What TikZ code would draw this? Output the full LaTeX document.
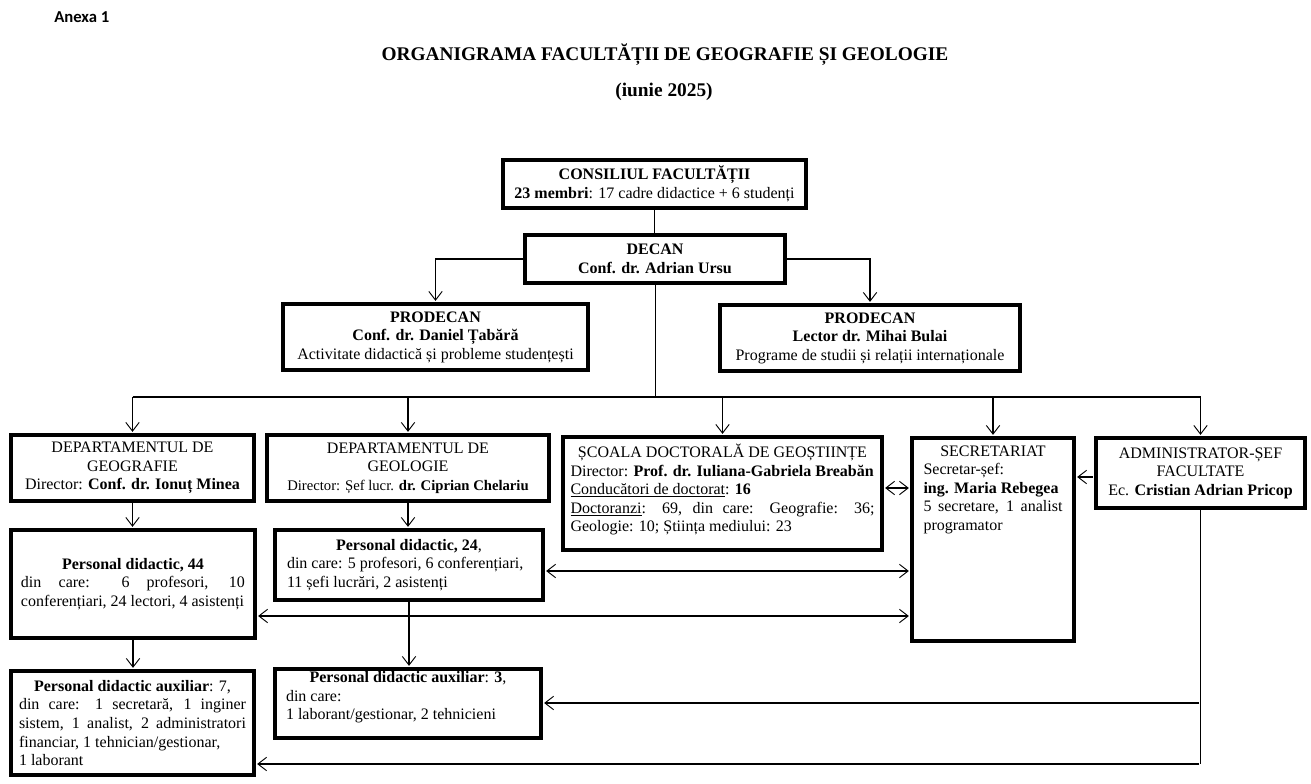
\documentclass[tikz,border=0pt]{standalone}
\usepackage{fontspec}
\setmainfont{Liberation Serif}
\newfontfamily\anexafont{Carlito}
\usetikzlibrary{arrows.meta}
\newcommand\cln[1]{\hbox to \hsize{\hfil#1\hfil}}
\newcommand\lft[1]{\hbox to \hsize{#1\hfil}}
\newcommand\jln[1]{\hbox to \hsize{\spaceskip=.25em plus 1fil\relax#1}}
\newcommand\lines[2]{\vbox{\hsize=#1\relax#2}}
\begin{document}
\begin{tikzpicture}[x=0.75pt,y=-0.75pt,
  >={Straight Barb[length=6.5pt,width=10pt,line width=0.7pt]},
  box/.style={draw, line width=2.7pt, inner sep=0pt, font=\fontsize{12}{13.9}\selectfont},
  bx/.style n args={2}{minimum width=#1*0.75pt, minimum height=#2*0.75pt},
  cthin/.style={line width=0.75pt},
  cmid/.style={line width=1.1pt, shorten >=1pt},
  cbus/.style={line width=0.9pt},
  cdown/.style={line width=1.3pt, shorten >=1pt},
  cthick/.style={line width=1.5pt, shorten >=1pt, shorten <=1pt}]
\fill[white] (0,0) rectangle (1311,784);
\useasboundingbox (0,0) rectangle (1311,784);

\node[anchor=west, inner sep=0pt, font=\anexafont\fontsize{12.5}{14}\selectfont\bfseries] (anexa) at (54,17) {Anexa 1};
\node[inner sep=0pt, font=\fontsize{14.5}{17}\selectfont\bfseries] (title) at (665,55) {ORGANIGRAMA FACULTĂȚII DE GEOGRAFIE ȘI GEOLOGIE};
\node[inner sep=0pt, font=\fontsize{14.5}{17}\selectfont\bfseries] (date) at (664,92) {(iunie 2025)};

\node[box, bx={303}{48}] (cons) at (654.5,184)
  {\lines{217.5pt}{\cln{\textbf{CONSILIUL FACULTĂȚII}}\cln{\textbf{23 membri}: 17 cadre didactice + 6 studenți}}};
\node[box, bx={260}{48}] (decan) at (655,259)
  {\lines{187.5pt}{\cln{\textbf{DECAN}}\cln{\textbf{Conf. dr. Adrian Ursu}}}};
\node[box, bx={305}{66}] (prodL) at (435.5,337)
  {\lines{222pt}{\cln{\textbf{PRODECAN}}\cln{\textbf{Conf. dr. Daniel Țabără}}\cln{Activitate didactică și probleme studențești}}};
\node[box, bx={300}{66}] (prodR) at (870,338)
  {\lines{222pt}{\cln{\textbf{PRODECAN}}\cln{\textbf{Lector dr. Mihai Bulai}}\cln{Programe de studii și relații internaționale}}};

\node[box, bx={243}{66}] (geog) at (132.5,468)
  {\lines{177pt}{\cln{DEPARTAMENTUL DE}\cln{GEOGRAFIE}\cln{Director: \textbf{Conf. dr. Ionuț Minea}}}};
\node[box, bx={282}{66}] (geol) at (408,468)
  {\lines{202.5pt}{\cln{DEPARTAMENTUL DE}\cln{GEOLOGIE}\cln{\fontsize{11}{13.9}\selectfont Director: Șef lucr. \textbf{dr. Ciprian Chelariu}}}};
\node[box, bx={319}{113}] (scoala) at (722.5,493.5)
  {\lines{228pt}{\cln{ȘCOALA DOCTORALĂ DE GEOȘTIINȚE}\lft{Director: \textbf{Prof. dr. Iuliana-Gabriela Breabăn}}\lft{\underline{Conducători de doctorat}: \textbf{16}}\jln{\underline{Doctoranzi}: 69, din care: Geografie: 36;}\lft{Geologie: 10; Știința mediului: 23}\vskip6pt}};
\node[box, bx={162}{203}] (sec) at (993,539.5)
  {\lines{104.25pt}{\cln{SECRETARIAT}\lft{Secretar-șef:}\lft{\textbf{ing. Maria Rebegea}}\jln{5 secretare, 1 analist}\lft{programator}\vskip75pt}};
\node[box, bx={209}{70}] (admin) at (1200.5,473)
  {\lines{150pt}{\cln{ADMINISTRATOR-ȘEF}\cln{FACULTATE}\cln{Ec. \textbf{Cristian Adrian Pricop}}}};

\node[box, bx={244}{108}] (p44) at (133,584)
  {\lines{168pt}{\cln{\textbf{Personal didactic, 44}}\jln{din care: 6 profesori, 10}\lft{conferențiari, 24 lectori, 4 asistenți}}};
\node[box, bx={268}{70}] (p24) at (409,565)
  {\lines{183pt}{\cln{\textbf{Personal didactic, 24},}\lft{din care: 5 profesori, 6 conferențiari,}\lft{11 șefi lucrări, 2 asistenți}}};
\node[box, bx={243}{104}] (aux7) at (132.5,723)
  {\lines{170.25pt}{\cln{\textbf{Personal didactic auxiliar}: 7,}\jln{din care: 1 secretară, 1 inginer}\jln{sistem, 1 analist, 2 administratori}\lft{financiar, 1 tehnician/gestionar,}\lft{1 laborant}}};
\node[box, bx={266}{69}] (aux3) at (408,703.5)
  {\lines{183pt}{\cln{\textbf{Personal didactic auxiliar}: \textbf{3},}\lft{din care:}\lft{1 laborant/gestionar, 2 tehnicieni}\vskip9pt}};

% connectors
\draw[cthin] (cons.south) -- (cons.south |- decan.north);
\draw[cmid,->] (decan.west) -| (prodL.north);
\draw[cmid,->] (decan.east) -| (prodR.north);
\coordinate (bus) at (654,397);
\draw[cthin] (decan.south) -- (decan.south |- bus);
\draw[cbus] (geog.north |- bus) -- (admin.north |- bus);
\foreach \n in {geog,geol,scoala,sec,admin}
  \draw[cdown,->] (\n.north |- bus) -- (\n.north);
\draw[cmid,->] (geog.south) -- (geog.south |- p44.north);
\draw[cmid,->] (geol.south) -- (geol.south |- p24.north);
\draw[cmid,->] (p44.south) -- (p44.south |- aux7.north);
\draw[cmid,->] (p24.south) -- (p24.south |- aux3.north);

\draw[cthick,<->] (scoala.east |- 0,488) -- (sec.west |- 0,488);
\draw[cthick,->] (admin.west |- 0,477) -- (sec.east |- 0,477);
\draw[cthick,<->] (p24.east |- 0,571) -- (sec.west |- 0,571);
\draw[cthick,<->] (p44.east |- 0,616) -- (sec.west |- 0,616);
\coordinate (a1) at (admin.south |- 0,703);
\coordinate (a2) at (admin.south |- 0,764);
\draw[cthin] (admin.south) -- (a2);
\draw[cthick,->] (a1) -- (aux3.east |- a1);
\draw[cthick,->] (a2) -- (aux7.east |- a2);
\end{tikzpicture}
\end{document}
